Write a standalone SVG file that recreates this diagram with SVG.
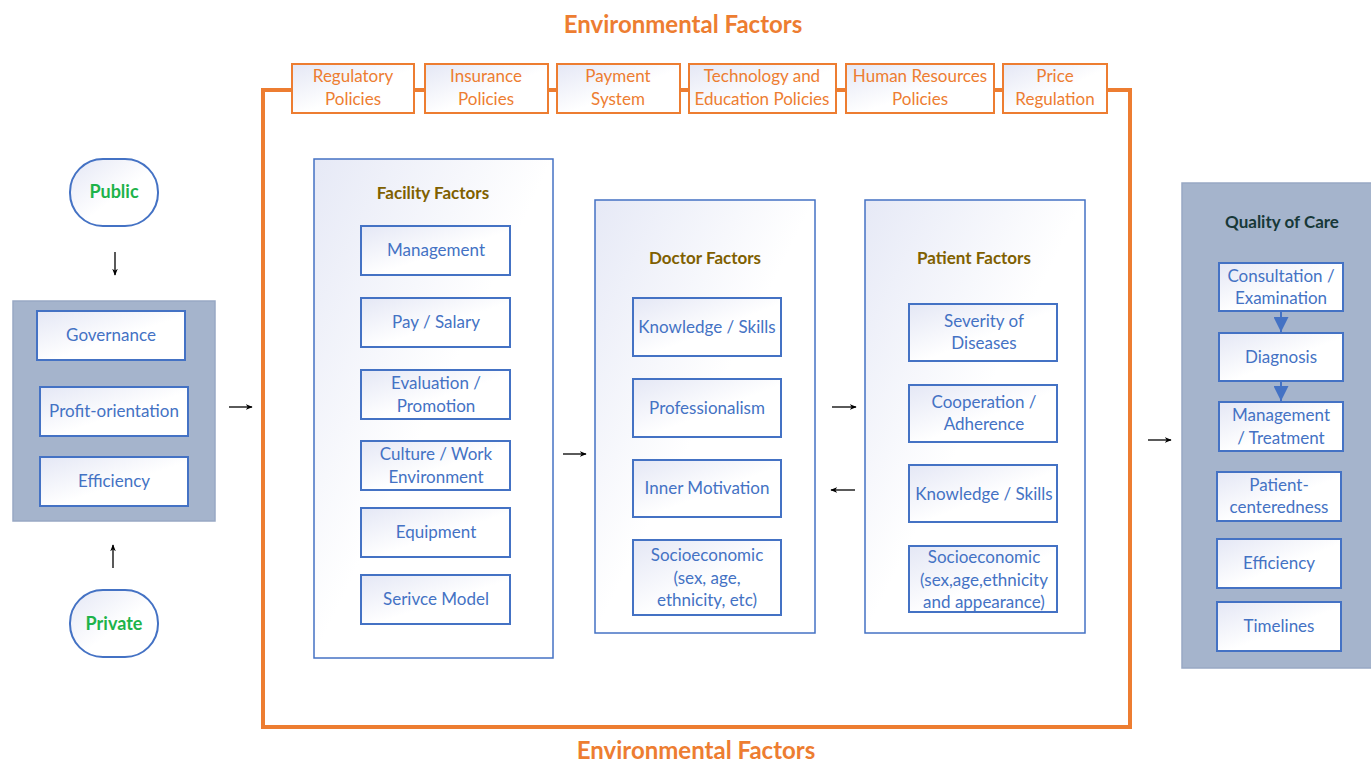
<svg xmlns="http://www.w3.org/2000/svg" width="1371" height="763" viewBox="0 0 1371 763">
<defs>
<linearGradient id="g" x1="0" y1="0" x2="1" y2="1">
<stop offset="0" stop-color="#E4E7F5"/>
<stop offset="0.55" stop-color="#FFFFFF"/>
</linearGradient>
<linearGradient id="gp" x1="0" y1="0" x2="1" y2="1">
<stop offset="0" stop-color="#E6E9F6"/>
<stop offset="0.5" stop-color="#FFFFFF"/>
</linearGradient>
<marker id="ah" viewBox="0 0 10 10" refX="9" refY="5" markerWidth="7" markerHeight="7" markerUnits="userSpaceOnUse" orient="auto">
<path d="M0,1 L10,5 L0,9 L3,5 z" fill="#000"/>
</marker>
<marker id="bh" viewBox="0 0 10 10" refX="10" refY="5" markerWidth="15" markerHeight="15" markerUnits="userSpaceOnUse" orient="auto">
<path d="M0,0 L10,5 L0,10 z" fill="#4472C4"/>
</marker>
</defs>
<style>
.item{fill:url(#g);stroke:#4472C4;stroke-width:2}
.panel{fill:url(#gp);stroke:#4472C4;stroke-width:1.5}
.gray{fill:#A5B4CC;stroke:#98A8C4;stroke-width:1.5}
.pol{fill:url(#g);stroke:#ED7D31;stroke-width:2}
.t{font-family:Lato,"Liberation Sans",sans-serif;font-size:17px;fill:#4472C4;text-anchor:middle}
.to{font-family:Lato,"Liberation Sans",sans-serif;font-size:17px;fill:#ED7D31;text-anchor:middle}
.h{font-family:Lato,"Liberation Sans",sans-serif;font-size:17px;font-weight:bold;fill:#7F6000;text-anchor:middle}
.hq{font-family:Lato,"Liberation Sans",sans-serif;font-size:17px;font-weight:bold;fill:#173838;text-anchor:middle}
.hg{font-family:Lato,"Liberation Sans",sans-serif;font-size:18px;font-weight:bold;fill:#1DB34A;text-anchor:middle}
.env{font-family:Lato,"Liberation Sans",sans-serif;font-size:24px;font-weight:bold;fill:#ED7D31;text-anchor:middle}
.c{stroke:#000;stroke-width:1.3;fill:none;marker-end:url(#ah)}
</style>
<rect width="1371" height="763" fill="#FFFFFF"/>

<text class="env" x="683" y="33">Environmental Factors</text>
<text class="env" x="696" y="759">Environmental Factors</text>

<g id="environment">
<rect x="263" y="90" width="867" height="637" fill="none" stroke="#ED7D31" stroke-width="4"/>
</g>

<g id="regulatory"><rect class="pol" x="292" y="64" width="122" height="49"/><text class="to" x="353" y="82">Regulatory</text><text class="to" x="353" y="105">Policies</text></g>
<g id="insurance"><rect class="pol" x="425" y="64" width="123" height="49"/><text class="to" x="486" y="82">Insurance</text><text class="to" x="486" y="105">Policies</text></g>
<g id="payment"><rect class="pol" x="557" y="64" width="123" height="49"/><text class="to" x="618" y="82">Payment</text><text class="to" x="618" y="105">System</text></g>
<g id="technology"><rect class="pol" x="689" y="64" width="147" height="49"/><text class="to" x="762" y="82">Technology and</text><text class="to" x="762" y="105">Education Policies</text></g>
<g id="humanres"><rect class="pol" x="846" y="64" width="148" height="49"/><text class="to" x="920" y="82">Human Resources</text><text class="to" x="920" y="105">Policies</text></g>
<g id="price"><rect class="pol" x="1003" y="64" width="104" height="49"/><text class="to" x="1055" y="82">Price</text><text class="to" x="1055" y="105">Regulation</text></g>

<g id="public"><rect x="70" y="159" width="88" height="67" rx="33" ry="33" fill="url(#g)" stroke="#4472C4" stroke-width="2"/><text class="hg" x="114" y="198">Public</text></g>
<g id="private"><rect x="70" y="590" width="88" height="67" rx="33" ry="33" fill="url(#g)" stroke="#4472C4" stroke-width="2"/><text class="hg" x="114" y="630">Private</text></g>

<g id="ownership">
<rect class="gray" x="13" y="301" width="202" height="220"/>
<rect class="item" x="37" y="311" width="148" height="49"/><text class="t" x="111" y="341">Governance</text>
<rect class="item" x="40" y="387" width="148" height="49"/><text class="t" x="114" y="417">Profit-orientation</text>
<rect class="item" x="40" y="457" width="148" height="49"/><text class="t" x="114" y="487">Efficiency</text>
</g>

<g id="facility">
<rect class="panel" x="314" y="159" width="239" height="499"/>
<text class="h" x="433" y="199">Facility Factors</text>
<rect class="item" x="361" y="226" width="149" height="49"/><text class="t" x="436" y="256">Management</text>
<rect class="item" x="361" y="298" width="149" height="49"/><text class="t" x="436" y="328">Pay / Salary</text>
<rect class="item" x="361" y="370" width="149" height="49"/><text class="t" x="436" y="389">Evaluation /</text><text class="t" x="436" y="412">Promotion</text>
<rect class="item" x="361" y="441" width="149" height="49"/><text class="t" x="436" y="460">Culture / Work</text><text class="t" x="436" y="483">Environment</text>
<rect class="item" x="361" y="508" width="149" height="49"/><text class="t" x="436" y="538">Equipment</text>
<rect class="item" x="361" y="575" width="149" height="49"/><text class="t" x="436" y="605">Serivce Model</text>
</g>

<g id="doctor">
<rect class="panel" x="595" y="200" width="220" height="433"/>
<text class="h" x="705" y="264">Doctor Factors</text>
<rect class="item" x="633" y="298" width="148" height="58"/><text class="t" x="707" y="333">Knowledge / Skills</text>
<rect class="item" x="633" y="379" width="148" height="58"/><text class="t" x="707" y="414">Professionalism</text>
<rect class="item" x="633" y="460" width="148" height="57"/><text class="t" x="707" y="494">Inner Motivation</text>
<rect class="item" x="633" y="540" width="148" height="75"/><text class="t" x="707" y="561">Socioeconomic</text><text class="t" x="707" y="584">(sex, age,</text><text class="t" x="707" y="606">ethnicity, etc)</text>
</g>

<g id="patient">
<rect class="panel" x="865" y="200" width="220" height="433"/>
<text class="h" x="974" y="264">Patient Factors</text>
<rect class="item" x="909" y="304" width="148" height="57"/><text class="t" x="984" y="327">Severity of</text><text class="t" x="984" y="349">Diseases</text>
<rect class="item" x="909" y="385" width="148" height="57"/><text class="t" x="984" y="408">Cooperation /</text><text class="t" x="984" y="430">Adherence</text>
<rect class="item" x="909" y="465" width="148" height="57"/><text class="t" x="984" y="500">Knowledge / Skills</text>
<rect class="item" x="909" y="546" width="148" height="66"/><text class="t" x="984" y="563">Socioeconomic</text><text class="t" x="984" y="586">(sex,age,ethnicity</text><text class="t" x="984" y="608">and appearance)</text>
</g>

<g id="quality">
<rect class="gray" x="1182" y="183" width="192" height="485"/>
<text class="hq" x="1282" y="228">Quality of Care</text>
<rect class="item" x="1219" y="263" width="124" height="48"/><text class="t" x="1281" y="282">Consultation /</text><text class="t" x="1281" y="304">Examination</text>
<rect class="item" x="1219" y="333" width="124" height="48"/><text class="t" x="1281" y="363">Diagnosis</text>
<rect class="item" x="1219" y="402" width="124" height="49"/><text class="t" x="1281" y="421">Management</text><text class="t" x="1281" y="444">/ Treatment</text>
<rect class="item" x="1217" y="472" width="124" height="49"/><text class="t" x="1279" y="491">Patient-</text><text class="t" x="1279" y="513">centeredness</text>
<rect class="item" x="1217" y="539" width="124" height="49"/><text class="t" x="1279" y="569">Efficiency</text>
<rect class="item" x="1217" y="602" width="124" height="49"/><text class="t" x="1279" y="632">Timelines</text>
</g>

<g id="connectors">
<line x1="115" y1="252" x2="115" y2="275" class="c"/>
<line x1="113" y1="568" x2="113" y2="545" class="c"/>
<line x1="229" y1="407" x2="252" y2="407" class="c"/>
<line x1="563" y1="454" x2="586" y2="454" class="c"/>
<line x1="832" y1="407" x2="856" y2="407" class="c"/>
<line x1="855" y1="490" x2="831" y2="490" class="c"/>
<line x1="1148" y1="440" x2="1171" y2="440" class="c"/>
<line x1="1281" y1="312" x2="1281" y2="332" stroke="#4472C4" stroke-width="2" marker-end="url(#bh)"/>
<line x1="1281" y1="382" x2="1281" y2="401" stroke="#4472C4" stroke-width="2" marker-end="url(#bh)"/>
</g>
</svg>
